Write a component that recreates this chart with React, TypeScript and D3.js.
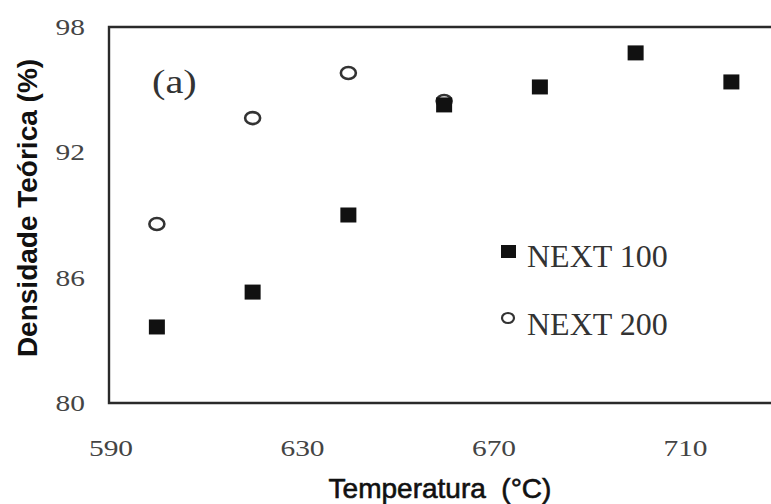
import React from "react";
import * as d3 from "d3";

const temperatures = [600, 620, 640, 660, 680, 700, 720];
const next100 = [83.64, 85.31, 89.0, 94.27, 95.13, 96.76, 95.37];
const temperatures200 = [600, 620, 640, 660];
const next200 = [88.57, 93.64, 95.8, 94.46];
const xTicks = [590, 630, 670, 710];
const yTicks = [80, 86, 92, 98];
const seriesNames = ["NEXT 100", "NEXT 200"];

const W = 771;
const H = 504;

export default function App() {
  const x = d3.scaleLinear().domain([590, 750]).range([109, 875]);
  const y = d3.scaleLinear().domain([80, 98]).range([403, 27]);
  const [x0, x1] = x.range();
  const [yb, yt] = y.range();
  const serif = "'Liberation Serif', 'Times New Roman', serif";
  const sans = "'Liberation Sans', Arial, sans-serif";

  return (
    <svg
      width={W}
      height={H}
      style={{ position: "absolute", left: 0, top: 0, background: "#fff" }}
    >
      <rect x={0} y={0} width={W} height={H} fill="#fff" />
      {/* frame */}
      <path
        d={`M${x1},${yt} L${x0},${yt} L${x0},${yb} L${x1},${yb} Z`}
        fill="none"
        stroke="#2a2a2a"
        strokeWidth={2.4}
      />
      {/* y tick labels */}
      {yTicks.map((t) => (
        <text
          key={"y" + t}
          transform={`translate(85,${y(t)}) scale(1.28,1)`}
          textAnchor="end"
          dominantBaseline="central"
          fontFamily={serif}
          fontSize={23}
          fill="#444"
        >
          {t}
        </text>
      ))}
      {/* x tick labels */}
      {xTicks.map((t) => (
        <text
          key={"x" + t}
          transform={`translate(${x(t) + 2},448) scale(1.28,1)`}
          textAnchor="middle"
          dominantBaseline="central"
          fontFamily={serif}
          fontSize={23}
          fill="#444"
        >
          {t}
        </text>
      ))}
      {/* axis titles */}
      <text
        x={440}
        y={498}
        textAnchor="middle"
        fontFamily={sans}
        fontSize={28}
        fill="#111"
        stroke="#111"
        strokeWidth={0.6}
        style={{ whiteSpace: "pre" }}
      >
        {"Temperatura  (°C)"}
      </text>
      <text
        transform={`translate(37,208) rotate(-90)`}
        textAnchor="middle"
        fontFamily={sans}
        fontSize={28}
        fontWeight="bold"
        fill="#111"
      >
        Densidade Teórica (%)
      </text>
      {/* panel label */}
      <text
        transform="translate(152,93) scale(1.22,1)"
        fontFamily={serif}
        fontSize={33}
        fill="#333"
      >
        (a)
      </text>
      {/* NEXT 200 points */}
      {temperatures200.map((t, i) => (
        <ellipse
          key={"c" + t}
          cx={x(t)}
          cy={y(next200[i])}
          rx={7.5}
          ry={6}
          fill="none"
          stroke="#333"
          strokeWidth={2.6}
        />
      ))}
      {/* NEXT 100 points */}
      {temperatures.map((t, i) => (
        <rect
          key={"s" + t}
          x={x(t) - 8}
          y={y(next100[i]) - 7.5}
          width={16}
          height={15}
          fill="#111"
        />
      ))}
      {/* legend */}
      <rect x={501} y={245} width={15} height={13} fill="#111" />
      <text x={527} y={267} fontFamily={serif} fontSize={32} fill="#333">
        {seriesNames[0]}
      </text>
      <ellipse
        cx={508}
        cy={318}
        rx={6}
        ry={5}
        fill="none"
        stroke="#333"
        strokeWidth={2.2}
      />
      <text x={527} y={335} fontFamily={serif} fontSize={32} fill="#333">
        {seriesNames[1]}
      </text>
    </svg>
  );
}
